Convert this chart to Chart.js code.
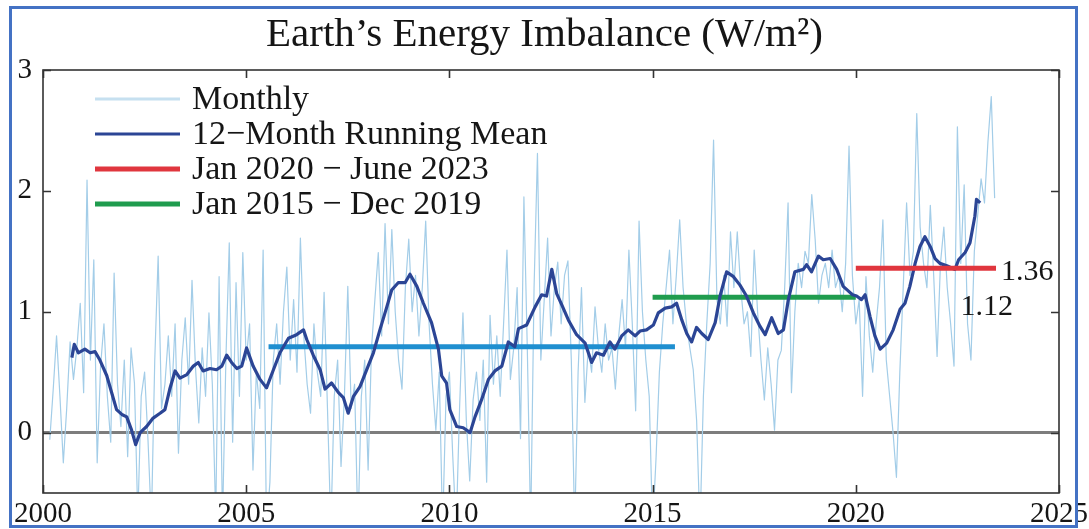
<!DOCTYPE html>
<html>
<head>
<meta charset="utf-8">
<script src="https://cdn.jsdelivr.net/npm/chart.js@4/dist/chart.umd.min.js"></script>
<style>
html,body{margin:0;padding:0;background:#fff;}
#wrap{width:1089px;height:529px;position:relative;}
canvas{display:block;}
</style>
</head>
<body>
<div id="wrap"><canvas id="c" width="1089" height="529"></canvas></div>
<script>
// ---------------- DATA ----------------
const chartTitle = 'Earth\u2019s Energy Imbalance (W/m\u00B2)';
const xTickValues = [2000, 2005, 2010, 2015, 2020, 2025];
const yTickValues = [0, 1, 2, 3];

// Monthly values, first value = March 2000, one value per month to June 2023
const monthlyStartYear = 2000;
const monthlyStartMonth = 3;
const monthlyValues = [
  // 2000 (Mar-Dec)
  -0.06, 0.35, 0.80, 0.30, -0.25, 0.20, 0.75, 0.44, 0.70, 1.07,
  // 2001
  0.33, 2.09, 0.60, 1.43, -0.25, 0.55, 0.90, 0.30, -0.08, 1.32, 0.40, 0.05,
  // 2002
  0.60, -0.20, 0.70, 0.41, -0.70, 0.30, 0.50, -0.06, -0.75, 0.60, 1.46, 0.20,
  // 2003
  0.40, 0.80, 0.30, 0.90, -0.17, 0.60, 0.95, 0.40, 1.26, 0.55, 0.08, 0.70,
  // 2004
  0.30, 0.99, 0.40, -0.70, 1.29, -0.75, 0.60, 1.57, -0.08, 1.24, 0.30, 1.49,
  // 2005
  0.60, 0.90, -0.31, 0.50, 0.20, 1.51, -0.80, -0.41, 0.60, 0.90, 0.40, 1.00,
  // 2006
  1.37, 0.60, 1.10, 0.50, 1.61, 0.80, 0.40, 0.16, 0.90, 0.50, 0.30, 1.16,
  // 2007
  0.20, -0.80, 0.30, 0.60, -0.28, 0.30, 1.21, 0.20, 0.40, -0.80, 0.30, 0.60,
  // 2008
  -0.31, 0.70, 1.10, 1.49, 0.80, 1.73, 0.90, 1.68, 1.00, 0.60, 0.36, 1.20,
  // 2009
  1.60, 1.00, 1.30, 0.80, 1.20, 1.75, 0.90, 0.40, 0.02, 0.50, -0.80, 0.30,
  // 2010
  0.50, -0.20, -0.80, 0.20, 0.99, 0.10, -0.40, 0.27, 0.50, 0.10, 0.60, -0.41,
  // 2011
  0.97, 0.40, 0.80, 0.30, 0.90, 1.51, 0.44, 0.70, 1.20, -0.05, 1.95, 0.70,
  // 2012
  -0.80, 1.20, 2.31, 0.60, 1.10, 1.61, 0.80, 1.20, 1.41, 0.90, 1.30, 1.42,
  // 2013
  0.60, -0.80, 0.50, 1.20, 0.25, 0.70, 0.50, 1.04, 0.70, 0.50, 0.90, 0.60,
  // 2014
  0.70, 0.36, 0.80, 1.10, 0.70, 1.51, 0.90, 0.18, 1.75, 1.00, 0.60, 0.30,
  // 2015
  -0.80, -0.22, 0.50, 0.90, 1.20, 1.51, 0.90, 1.30, 1.76, 1.20, 0.90, 0.70,
  // 2016
  0.52, 0.10, -0.80, 0.30, 0.90, 1.40, 2.42, 1.10, 0.90, 1.30, 0.88, 1.66,
  // 2017
  1.20, 1.66, 1.20, 0.90, 1.00, 0.63, 1.51, 1.00, 0.60, 0.27, 0.70, 0.40,
  // 2018
  0.02, 0.60, 0.68, 1.20, 1.90, 0.33, 1.00, 1.40, 1.20, 1.50, 1.40, 1.97,
  // 2019
  1.60, 1.07, 1.30, 1.40, 1.20, 1.51, 1.20, 1.30, 1.00, 1.40, 2.37, 1.30,
  // 2020
  0.90, 1.10, 0.30, 1.29, 0.80, 0.50, 0.90, 1.20, 1.76, 0.60, 0.30, 0.00,
  // 2021
  -0.37, 0.50, 1.20, 1.90, 1.30, 1.50, 2.64, 1.70, 1.40, 1.20, 1.88, 1.30,
  // 2022
  0.63, 1.40, 1.70, 1.20, 0.90, 0.55, 2.53, 1.40, 2.05, 0.90, 0.60, 1.50,
  // 2023 (Jan-Jun)
  1.80, 2.10, 1.90, 2.40, 2.78, 1.94
];

// 12-month running mean (traced vertices)
const runningYears = [
  2000.71, 2000.77, 2000.87, 2001.03, 2001.16, 2001.28, 2001.40, 2001.57, 2001.69, 2001.81,
  2001.94, 2002.06, 2002.18, 2002.28, 2002.39, 2002.55, 2002.71, 2002.88, 2003.00, 2003.12,
  2003.25, 2003.37, 2003.54, 2003.70, 2003.82, 2003.94, 2004.11, 2004.27, 2004.40, 2004.52,
  2004.64, 2004.77, 2004.89, 2005.01, 2005.17, 2005.34, 2005.50, 2005.67, 2005.83, 2006.04,
  2006.24, 2006.41, 2006.49, 2006.65, 2006.82, 2006.94, 2007.10, 2007.27, 2007.39, 2007.51,
  2007.64, 2007.80, 2008.00, 2008.13, 2008.29, 2008.46, 2008.58, 2008.74, 2008.91, 2009.03,
  2009.20, 2009.36, 2009.56, 2009.73, 2009.81, 2009.93, 2010.01, 2010.18, 2010.34, 2010.51,
  2010.63, 2010.79, 2010.96, 2011.12, 2011.29, 2011.45, 2011.61, 2011.70, 2011.90, 2012.11,
  2012.27, 2012.39, 2012.52, 2012.64, 2012.76, 2012.93, 2013.13, 2013.34, 2013.50, 2013.62,
  2013.79, 2013.95, 2014.07, 2014.24, 2014.40, 2014.57, 2014.69, 2014.85, 2015.02, 2015.14,
  2015.31, 2015.47, 2015.59, 2015.72, 2015.84, 2015.96, 2016.08, 2016.21, 2016.37, 2016.54,
  2016.66, 2016.82, 2016.99, 2017.15, 2017.31, 2017.48, 2017.64, 2017.77, 2017.93, 2018.09,
  2018.22, 2018.34, 2018.50, 2018.71, 2018.79, 2018.91, 2019.08, 2019.20, 2019.37, 2019.53,
  2019.69, 2019.82, 2019.92, 2020.02, 2020.14, 2020.23, 2020.35, 2020.47, 2020.60, 2020.76,
  2020.92, 2021.09, 2021.21, 2021.33, 2021.46, 2021.58, 2021.70, 2021.83, 2021.95, 2022.07,
  2022.24, 2022.44, 2022.53, 2022.69, 2022.81, 2022.93, 2022.97, 2023.06
];
const runningValues = [
  0.62, 0.73, 0.66, 0.69, 0.66, 0.67, 0.60, 0.47, 0.33, 0.19,
  0.15, 0.13, 0.02, -0.10, 0.00, 0.05, 0.12, 0.16, 0.19, 0.36,
  0.51, 0.45, 0.48, 0.55, 0.58, 0.51, 0.53, 0.52, 0.55, 0.64,
  0.58, 0.53, 0.55, 0.70, 0.55, 0.44, 0.37, 0.52, 0.66, 0.78,
  0.81, 0.85, 0.77, 0.64, 0.52, 0.36, 0.41, 0.33, 0.29, 0.16,
  0.30, 0.38, 0.55, 0.66, 0.85, 1.04, 1.18, 1.24, 1.24, 1.31,
  1.21, 1.07, 0.91, 0.69, 0.47, 0.41, 0.19, 0.05, 0.04, 0.00,
  0.13, 0.27, 0.44, 0.51, 0.55, 0.75, 0.71, 0.86, 0.89, 1.04,
  1.14, 1.13, 1.35, 1.15, 1.06, 0.93, 0.81, 0.74, 0.58, 0.66,
  0.64, 0.75, 0.69, 0.80, 0.85, 0.80, 0.84, 0.85, 0.89, 0.99,
  1.03, 1.04, 1.07, 0.93, 0.82, 0.75, 0.87, 0.82, 0.77, 0.91,
  1.13, 1.33, 1.29, 1.22, 1.13, 0.99, 0.88, 0.81, 0.95, 0.82,
  0.85, 1.10, 1.33, 1.35, 1.39, 1.33, 1.46, 1.43, 1.44, 1.35,
  1.21, 1.17, 1.14, 1.13, 1.10, 1.14, 0.96, 0.80, 0.69, 0.74,
  0.85, 1.02, 1.07, 1.21, 1.40, 1.54, 1.62, 1.54, 1.44, 1.40,
  1.38, 1.35, 1.43, 1.49, 1.57, 1.79, 1.93, 1.90
];

// Period means (horizontal segments)
const periodLabels = ['2005\u20132015 mean', 'Jan 2015 \u2212 Dec 2019', 'Jan 2020 \u2212 June 2023'];
const periodStarts = [2005.55, 2015.0, 2020.0];
const periodEnds   = [2015.55, 2020.0, 2023.45];
const periodMeans  = [0.71, 1.12, 1.36];

const legendLabels = ['Monthly', '12\u2212Month Running Mean', 'Jan 2020 \u2212 June 2023', 'Jan 2015 \u2212 Dec 2019'];

// ---------------- STYLE ----------------
const SERIF = "'Liberation Serif','Times New Roman',Times,serif";
const C_MONTHLY = '#a3cde8';
const C_RUNNING = '#2b4595';
const C_PERIOD = ['#1f8fd0', '#1f9c4e', '#e0363e'];
const INK = '#151515';

const monthlyPoints = monthlyValues.map((v, i) => ({
  x: monthlyStartYear + (monthlyStartMonth - 1 + i) / 12,
  y: v
}));
const runningPoints = runningYears.map((x, i) => ({ x: x, y: runningValues[i] }));
const periodData = periodStarts.map((s, i) => [{ x: s, y: periodMeans[i] }, { x: periodEnds[i], y: periodMeans[i] }]);

const datasets = [
  { label: legendLabels[0], data: monthlyPoints, borderColor: C_MONTHLY, borderWidth: 1.2, order: 10 },
  { label: legendLabels[1], data: runningPoints, borderColor: C_RUNNING, borderWidth: 3.2, order: 2 },
  { label: legendLabels[2], data: periodData[2], borderColor: C_PERIOD[2], borderWidth: 5, order: 1 },
  { label: legendLabels[3], data: periodData[1], borderColor: C_PERIOD[1], borderWidth: 5, order: 5 },
  { label: periodLabels[0], data: periodData[0], borderColor: C_PERIOD[0], borderWidth: 5, order: 6 }
];
const legendSampleWidths = [3, 3, 5, 5];
const legendSampleColors = ['#c6e0f0', C_RUNNING, C_PERIOD[2], C_PERIOD[1]];

// ---------------- PLUGINS ----------------
const framePlugin = {
  id: 'frame',
  afterDatasetsDraw(chart) {
    const { ctx, chartArea: a, scales: { x, y } } = chart;
    ctx.save();
    ctx.strokeStyle = '#333';
    ctx.lineWidth = 1.6;
    ctx.strokeRect(a.left, a.top, a.right - a.left, a.bottom - a.top);
    ctx.beginPath();
    const L = 8;
    xTickValues.forEach(v => {
      const px = Math.round(x.getPixelForValue(v)) + 0.5;
      ctx.moveTo(px, a.bottom); ctx.lineTo(px, a.bottom - L);
      ctx.moveTo(px, a.top); ctx.lineTo(px, a.top + L);
    });
    yTickValues.forEach(v => {
      const py = Math.round(y.getPixelForValue(v)) + 0.5;
      ctx.moveTo(a.left, py); ctx.lineTo(a.left + L, py);
      ctx.moveTo(a.right, py); ctx.lineTo(a.right - L, py);
    });
    ctx.stroke();
    ctx.restore();
  }
};

const legendPlugin = {
  id: 'customLegend',
  afterDatasetsDraw(chart) {
    const { ctx, chartArea: a } = chart;
    ctx.save();
    ctx.font = '34px ' + SERIF;
    ctx.fillStyle = INK;
    ctx.textAlign = 'left';
    ctx.textBaseline = 'middle';
    const x0 = a.left + 52, x1 = a.left + 137, tx = a.left + 149;
    legendLabels.forEach((lab, i) => {
      const yy = a.top + 29 + i * 35;
      ctx.strokeStyle = legendSampleColors[i];
      ctx.lineWidth = legendSampleWidths[i];
      ctx.beginPath();
      ctx.moveTo(x0, yy); ctx.lineTo(x1, yy);
      ctx.stroke();
      ctx.fillText(lab, tx, yy + 1);
    });
    ctx.restore();
  }
};

const valueLabelPlugin = {
  id: 'valueLabels',
  afterDatasetsDraw(chart) {
    const { ctx, scales: { x, y } } = chart;
    ctx.save();
    ctx.font = '30px ' + SERIF;
    ctx.fillStyle = INK;
    ctx.textBaseline = 'middle';
    const endX = x.getPixelForValue(periodEnds[2]);
    ctx.textAlign = 'left';
    ctx.fillText(periodMeans[2].toFixed(2), endX + 5, y.getPixelForValue(periodMeans[2]) + 4);
    ctx.textAlign = 'right';
    ctx.fillText(periodMeans[1].toFixed(2), endX + 17, y.getPixelForValue(periodMeans[1]) + 10);
    ctx.restore();
  }
};

const borderPlugin = {
  id: 'outerBorder',
  beforeDraw(chart) {
    const { ctx, width, height } = chart;
    ctx.save();
    ctx.fillStyle = '#fff';
    ctx.fillRect(0, 0, width, height);
    ctx.restore();
  },
  afterDraw(chart) {
    const { ctx } = chart;
    ctx.save();
    ctx.strokeStyle = '#4472c4';
    ctx.lineWidth = 3;
    ctx.strokeRect(10.5, 7.5, 1066, 519);
    ctx.restore();
  }
};

// ---------------- CHART ----------------
new Chart(document.getElementById('c').getContext('2d'), {
  type: 'line',
  data: { datasets: datasets },
  options: {
    responsive: false,
    animation: false,
    devicePixelRatio: 1,
    layout: { padding: 0 },
    elements: { point: { radius: 0 }, line: { tension: 0, fill: false, borderJoinStyle: 'round' } },
    plugins: {
      legend: { display: false },
      tooltip: { enabled: false },
      title: {
        display: true,
        text: chartTitle,
        color: INK,
        font: { family: SERIF, size: 41, weight: 'normal', lineHeight: 1.2 },
        padding: { top: 11, bottom: 9.8 }
      }
    },
    scales: {
      x: {
        type: 'linear',
        min: 2000,
        max: 2025,
        afterBuildTicks: s => { s.ticks = xTickValues.map(v => ({ value: v })); },
        afterFit: s => { s.height = 36; s.paddingLeft = 0; s.paddingRight = 0; },
        grid: { display: false, drawTicks: false },
        border: { display: false },
        ticks: {
          autoSkip: false, maxRotation: 0, minRotation: 0, padding: 4,
          color: INK, font: { family: SERIF, size: 29 },
          callback: v => String(v)
        }
      },
      y: {
        min: -0.5,
        max: 3,
        afterBuildTicks: s => { s.ticks = yTickValues.map(v => ({ value: v })); },
        afterFit: s => { s.width = 43; },
        grid: {
          drawTicks: false,
          color: c => (c.tick && c.tick.value === 0) ? '#7d7d7d' : 'rgba(0,0,0,0)',
          lineWidth: c => (c.tick && c.tick.value === 0) ? 3 : 0
        },
        border: { display: false },
        ticks: {
          padding: 11, color: INK, font: { family: SERIF, size: 29 },
          callback: v => String(v)
        }
      },
      yRight: {
        position: 'right',
        min: -0.5,
        max: 3,
        afterFit: s => { s.width = 30; s.paddingTop = 0; s.paddingBottom = 0; },
        grid: { display: false, drawTicks: false },
        border: { display: false },
        ticks: { display: false }
      }
    }
  },
  plugins: [borderPlugin, framePlugin, legendPlugin, valueLabelPlugin]
});
</script>
</body>
</html>
